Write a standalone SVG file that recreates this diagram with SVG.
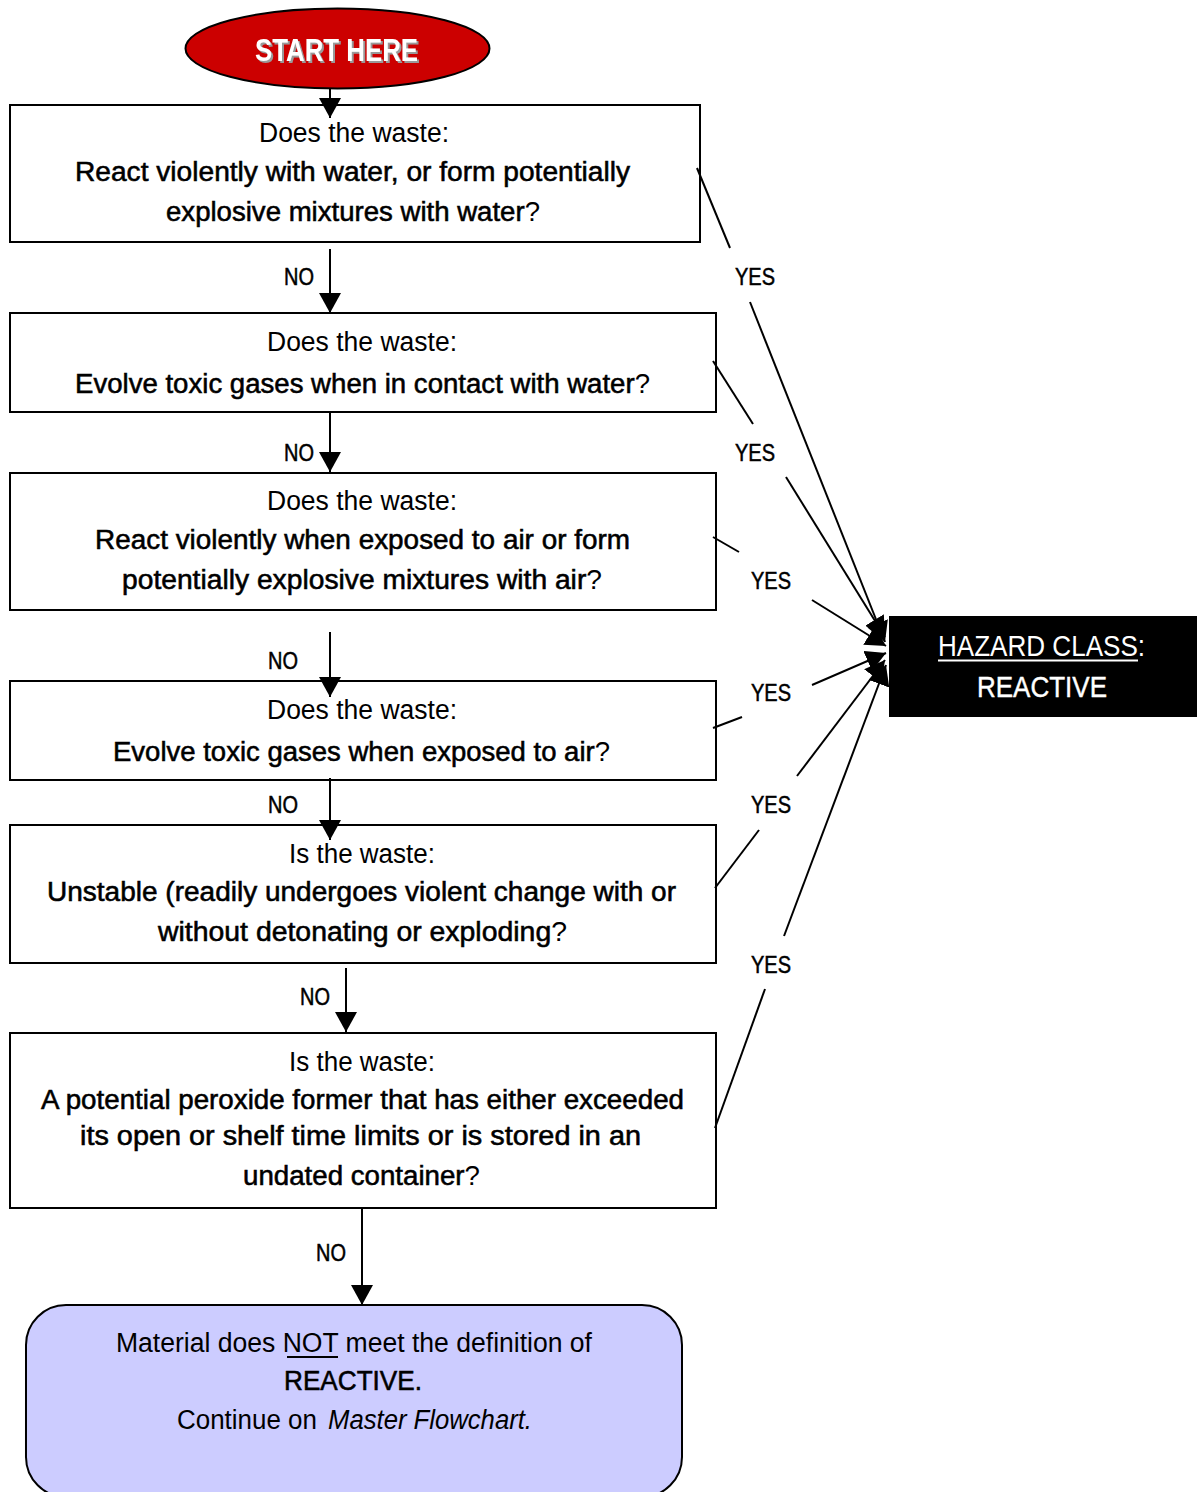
<svg xmlns="http://www.w3.org/2000/svg" width="1202" height="1492" viewBox="0 0 1202 1492">
<defs>
<style>
.box{fill:#fff;stroke:#000;stroke-width:2}
.t{font-family:"Liberation Sans Narrow","Liberation Sans",Arial,sans-serif;font-size:27px;fill:#000}
.q{stroke:#000;stroke-width:0.55}
.p{stroke:none}
.lab{font-family:"Liberation Sans Narrow","Liberation Sans",Arial,sans-serif;font-size:24px;fill:#000;stroke:#000;stroke-width:0.5}
.ln{stroke:#000;stroke-width:2;fill:none}
</style>
<marker id="ah" markerUnits="userSpaceOnUse" markerWidth="22" markerHeight="22" refX="20" refY="11" orient="auto" viewBox="0 0 22 22">
<path d="M0,0 L20,11 L0,22 z" fill="#000"/>
</marker>
<filter id="sh" x="-10%" y="-20%" width="130%" height="150%">
<feDropShadow dx="2" dy="2" stdDeviation="0.3" flood-color="#9a9a9a" flood-opacity="1"/>
</filter>
</defs>
<rect width="1202" height="1492" fill="#fff"/>

<g id="start">
<ellipse cx="337.5" cy="48.5" rx="152" ry="40" fill="#cc0000" stroke="#000" stroke-width="2"/>
<text x="255" y="61" font-family="'Liberation Sans Narrow','Liberation Sans',Arial,sans-serif" font-size="32" font-weight="bold" fill="#fff" textLength="163" lengthAdjust="spacingAndGlyphs" filter="url(#sh)">START HERE</text>
</g>

<g id="q1">
<rect class="box" x="10" y="105" width="690" height="137"/>
<text class="t" x="259" y="142" textLength="190" lengthAdjust="spacingAndGlyphs">Does the waste:</text>
<text class="t q" x="75" y="181" textLength="555" lengthAdjust="spacingAndGlyphs">React violently with water, or form potentially</text>
<text class="t q" x="166" y="221" textLength="374" lengthAdjust="spacingAndGlyphs">explosive mixtures with water<tspan class="p">?</tspan></text>
</g>

<g id="q2">
<rect class="box" x="10" y="313" width="706" height="99"/>
<text class="t" x="267" y="351" textLength="190" lengthAdjust="spacingAndGlyphs">Does the waste:</text>
<text class="t q" x="75" y="393" textLength="575" lengthAdjust="spacingAndGlyphs">Evolve toxic gases when in contact with water<tspan class="p">?</tspan></text>
</g>

<g id="q3">
<rect class="box" x="10" y="473" width="706" height="137"/>
<text class="t" x="267" y="510" textLength="190" lengthAdjust="spacingAndGlyphs">Does the waste:</text>
<text class="t q" x="95" y="549" textLength="535" lengthAdjust="spacingAndGlyphs">React violently when exposed to air or form</text>
<text class="t q" x="122" y="589" textLength="480" lengthAdjust="spacingAndGlyphs">potentially explosive mixtures with air<tspan class="p">?</tspan></text>
</g>

<g id="q4">
<rect class="box" x="10" y="681" width="706" height="99"/>
<text class="t" x="267" y="719" textLength="190" lengthAdjust="spacingAndGlyphs">Does the waste:</text>
<text class="t q" x="113" y="761" textLength="497" lengthAdjust="spacingAndGlyphs">Evolve toxic gases when exposed to air<tspan class="p">?</tspan></text>
</g>

<g id="q5">
<rect class="box" x="10" y="825" width="706" height="138"/>
<text class="t" x="289" y="863" textLength="146" lengthAdjust="spacingAndGlyphs">Is the waste:</text>
<text class="t q" x="47" y="901" textLength="629" lengthAdjust="spacingAndGlyphs">Unstable (readily undergoes violent change with or</text>
<text class="t q" x="158" y="941" textLength="409" lengthAdjust="spacingAndGlyphs">without detonating or exploding<tspan class="p">?</tspan></text>
</g>

<g id="q6">
<rect class="box" x="10" y="1033" width="706" height="175"/>
<text class="t" x="289" y="1071" textLength="146" lengthAdjust="spacingAndGlyphs">Is the waste:</text>
<text class="t q" x="41" y="1109" textLength="643" lengthAdjust="spacingAndGlyphs">A potential peroxide former that has either exceeded</text>
<text class="t q" x="80" y="1145" textLength="561" lengthAdjust="spacingAndGlyphs">its open or shelf time limits or is stored in an</text>
<text class="t q" x="243" y="1185" textLength="237" lengthAdjust="spacingAndGlyphs">undated container<tspan class="p">?</tspan></text>
</g>

<g id="hazard">
<rect x="889" y="616" width="308" height="101" fill="#000"/>
<text x="938" y="656" font-family="'Liberation Sans Narrow','Liberation Sans',Arial,sans-serif" font-size="29" fill="#fff" textLength="207" lengthAdjust="spacingAndGlyphs">HAZARD CLASS:</text>
<line x1="938" y1="660.5" x2="1138" y2="660.5" stroke="#fff" stroke-width="2"/>
<text x="977" y="697" font-family="'Liberation Sans Narrow','Liberation Sans',Arial,sans-serif" font-size="29" fill="#fff" stroke="#fff" stroke-width="0.4" textLength="130" lengthAdjust="spacingAndGlyphs">REACTIVE</text>
</g>

<g id="end">
<rect x="26" y="1305" width="656" height="192" rx="40" ry="40" fill="#ccccff" stroke="#000" stroke-width="2"/>
<text class="t" x="116" y="1352" textLength="476" lengthAdjust="spacingAndGlyphs">Material does NOT meet the definition of</text>
<line x1="287" y1="1357" x2="338" y2="1357" stroke="#000" stroke-width="2"/>
<text class="t q" x="284" y="1390" textLength="138" lengthAdjust="spacingAndGlyphs">REACTIVE.</text>
<text class="t" x="177" y="1429" textLength="140" lengthAdjust="spacingAndGlyphs">Continue on</text>
<text class="t" x="328" y="1429" font-style="italic" textLength="204" lengthAdjust="spacingAndGlyphs">Master Flowchart.</text>
</g>

<g id="connectors">
<line class="ln" x1="330" y1="88" x2="330" y2="118" marker-end="url(#ah)"/>
<line class="ln" x1="330" y1="249" x2="330" y2="313" marker-end="url(#ah)"/>
<line class="ln" x1="330" y1="412" x2="330" y2="472" marker-end="url(#ah)"/>
<line class="ln" x1="330" y1="632" x2="330" y2="697" marker-end="url(#ah)"/>
<line class="ln" x1="330" y1="778" x2="330" y2="840" marker-end="url(#ah)"/>
<line class="ln" x1="346" y1="968" x2="346" y2="1032" marker-end="url(#ah)"/>
<line class="ln" x1="362" y1="1208" x2="362" y2="1305" marker-end="url(#ah)"/>

<line class="ln" x1="697" y1="168" x2="730" y2="248"/>
<line class="ln" x1="750" y1="302" x2="885" y2="642" marker-end="url(#ah)"/>
<line class="ln" x1="713" y1="361" x2="753" y2="424"/>
<line class="ln" x1="786" y1="477" x2="885" y2="637" marker-end="url(#ah)"/>
<line class="ln" x1="713" y1="537" x2="739" y2="552"/>
<line class="ln" x1="812" y1="600" x2="886" y2="646" marker-end="url(#ah)"/>
<line class="ln" x1="713" y1="728" x2="742" y2="717"/>
<line class="ln" x1="812" y1="685" x2="886" y2="653" marker-end="url(#ah)"/>
<line class="ln" x1="715" y1="888" x2="759" y2="830"/>
<line class="ln" x1="797" y1="776" x2="885" y2="660" marker-end="url(#ah)"/>
<line class="ln" x1="715" y1="1128" x2="765" y2="989"/>
<line class="ln" x1="784" y1="936" x2="886" y2="665" marker-end="url(#ah)"/>

<text class="lab" x="284" y="285" textLength="30" lengthAdjust="spacingAndGlyphs">NO</text>
<text class="lab" x="284" y="461" textLength="30" lengthAdjust="spacingAndGlyphs">NO</text>
<text class="lab" x="268" y="669" textLength="30" lengthAdjust="spacingAndGlyphs">NO</text>
<text class="lab" x="268" y="813" textLength="30" lengthAdjust="spacingAndGlyphs">NO</text>
<text class="lab" x="300" y="1005" textLength="30" lengthAdjust="spacingAndGlyphs">NO</text>
<text class="lab" x="316" y="1261" textLength="30" lengthAdjust="spacingAndGlyphs">NO</text>

<text class="lab" x="735" y="285" textLength="40" lengthAdjust="spacingAndGlyphs">YES</text>
<text class="lab" x="735" y="461" textLength="40" lengthAdjust="spacingAndGlyphs">YES</text>
<text class="lab" x="751" y="589" textLength="40" lengthAdjust="spacingAndGlyphs">YES</text>
<text class="lab" x="751" y="701" textLength="40" lengthAdjust="spacingAndGlyphs">YES</text>
<text class="lab" x="751" y="813" textLength="40" lengthAdjust="spacingAndGlyphs">YES</text>
<text class="lab" x="751" y="973" textLength="40" lengthAdjust="spacingAndGlyphs">YES</text>
</g>
</svg>
